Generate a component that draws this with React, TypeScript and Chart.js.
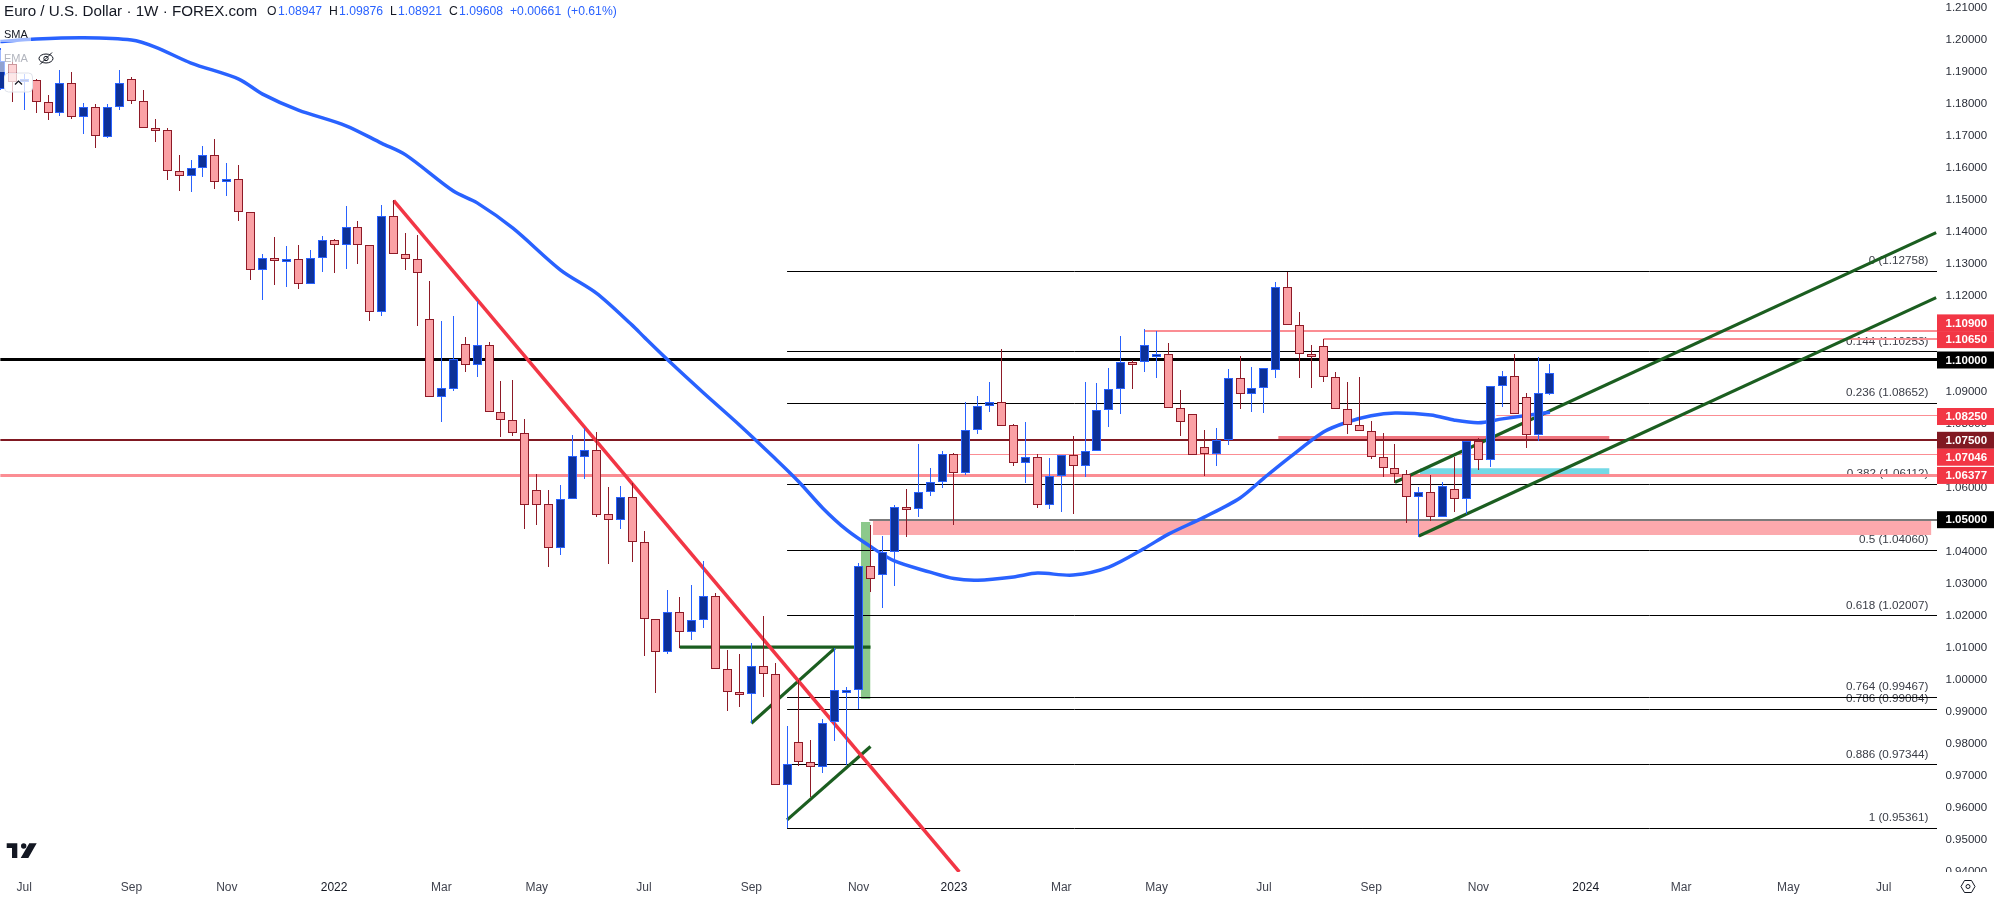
import React, { useEffect, useRef } from "react";
import { Chart } from "chart.js/auto";

const highs = [
  1.1974, 1.1932, 1.1894, 1.1877, 1.1828, 1.1906, 1.19, 1.1802, 1.1799, 1.1799,
  1.1906, 1.1883, 1.1844, 1.1752, 1.1724, 1.1641, 1.1625, 1.1669, 1.1691, 1.1616,
  1.1609, 1.1461, 1.1331, 1.1384, 1.1356, 1.1359, 1.1344, 1.1387, 1.1378, 1.1481,
  1.1434, 1.1358, 1.1484, 1.15, 1.1396, 1.1391, 1.1247, 1.1122, 1.1137, 1.1073,
  1.1184, 1.1056, 1.0934, 1.0937, 1.0816, 1.0644, 1.0594, 1.0609, 1.0766, 1.0789,
  1.0775, 1.0603, 1.0606, 1.0615, 1.0466, 1.019, 1.0281, 1.0259, 1.0297, 1.0372,
  1.0271, 1.0094, 1.0081, 1.0116, 1.02, 1.0053, 0.9856, 1.0, 0.9812, 0.9878,
  1.0099, 0.9978, 1.0365, 1.0484, 1.045, 1.0547, 1.0597, 1.0738, 1.0663, 1.0716,
  1.0708, 1.0869, 1.0888, 1.0931, 1.1034, 1.08, 1.0806, 1.0706, 1.0694, 1.0703,
  1.0763, 1.0931, 1.0928, 1.0975, 1.1075, 1.1, 1.1097, 1.1091, 1.1053, 1.0906,
  1.083, 1.0781, 1.0788, 1.0972, 1.1013, 1.0978, 1.0974, 1.1244, 1.1276, 1.1149,
  1.1047, 1.1066, 1.0961, 1.0931, 1.0947, 1.0809, 1.0771, 1.0738, 1.0656, 1.0604,
  1.0641, 1.062, 1.0696, 1.0747, 1.0757, 1.0918, 1.0966, 1.1019, 1.0896, 1.1009, 1.09876,
];
const opens = [
  1.1846, 1.1924, 1.1873, 1.1874, 1.1805, 1.1771, 1.1865, 1.176, 1.1792, 1.1698,
  1.1792, 1.1877, 1.1808, 1.1725, 1.1718, 1.1592, 1.1574, 1.1599, 1.164, 1.1558,
  1.1565, 1.1461, 1.128, 1.1318, 1.1311, 1.1315, 1.1236, 1.1318, 1.1374, 1.1358,
  1.1415, 1.1358, 1.1149, 1.1449, 1.133, 1.1315, 1.1127, 1.0885, 1.091, 1.1049,
  1.0983, 1.1046, 1.0836, 1.0811, 1.0771, 1.0593, 1.0549, 1.0414, 1.0565, 1.0698,
  1.0718, 1.0518, 1.0499, 1.0571, 1.043, 1.019, 1.0088, 1.0214, 1.0149, 1.0186,
  1.0261, 1.0033, 0.9964, 0.9955, 1.0045, 1.0018, 0.9671, 0.9805, 0.9743, 0.9727,
  0.987, 0.9967, 0.9968, 1.0355, 1.0327, 1.0399, 1.054, 1.0533, 1.0586, 1.0618,
  1.0705, 1.0646, 1.078, 1.0855, 1.0868, 1.0796, 1.0677, 1.0696, 1.0546, 1.0636,
  1.0702, 1.0668, 1.0715, 1.0843, 1.0908, 1.0995, 1.0993, 1.1017, 1.1018, 1.0849,
  1.083, 1.0727, 1.0707, 1.0749, 1.0943, 1.0893, 1.0911, 1.0968, 1.1227, 1.1108,
  1.1018, 1.1043, 1.0946, 1.0846, 1.0796, 1.0777, 1.0698, 1.0662, 1.0645, 1.0572,
  1.0587, 1.0508, 1.0596, 1.0565, 1.0746, 1.0687, 1.0918, 1.0949, 1.0883, 1.0765, 1.08947,
];
const closes = [
  1.1934, 1.187, 1.1877, 1.1805, 1.1771, 1.1865, 1.176, 1.1792, 1.1699, 1.1792,
  1.1865, 1.1808, 1.1724, 1.1718, 1.1592, 1.1574, 1.1599, 1.164, 1.1557, 1.1565,
  1.1461, 1.128, 1.1318, 1.1311, 1.1315, 1.1236, 1.1318, 1.1374, 1.1358, 1.1415,
  1.1358, 1.1149, 1.1449, 1.133, 1.1315, 1.1271, 1.0885, 1.0911, 1.1002, 1.0983,
  1.1046, 1.0836, 1.0811, 1.0771, 1.0546, 1.0548, 1.0414, 1.0565, 1.0699, 1.0718,
  1.0517, 1.0499, 1.0571, 1.043, 1.019, 1.0088, 1.0214, 1.0149, 1.0186, 1.0261,
  1.0033, 0.9964, 0.9955, 1.0045, 1.0018, 0.9671, 0.9736, 0.9743, 0.9727, 0.9865,
  0.9968, 0.9969, 1.0355, 1.0315, 1.0399, 1.054, 1.0533, 1.0586, 1.0618, 1.0705,
  1.0646, 1.078, 1.0855, 1.0868, 1.0793, 1.0677, 1.0696, 1.0546, 1.0636, 1.0702,
  1.0668, 1.0715, 1.0843, 1.0908, 1.0993, 1.0992, 1.1046, 1.1019, 1.0849, 1.0805,
  1.0702, 1.0707, 1.0749, 1.0943, 1.0893, 1.0911, 1.0974, 1.1227, 1.1108, 1.1018,
  1.1008, 1.0946, 1.0846, 1.0796, 1.0777, 1.0698, 1.0662, 1.0645, 1.0572, 1.0587,
  1.0508, 1.0605, 1.0565, 1.0746, 1.0687, 1.0918, 1.0949, 1.083, 1.0765, 1.0896, 1.09608,
];
const lows = [
  1.1844, 1.1807, 1.1781, 1.1773, 1.175, 1.1764, 1.1754, 1.1705, 1.1662, 1.1695,
  1.1781, 1.1801, 1.1724, 1.1682, 1.1563, 1.1528, 1.1525, 1.1573, 1.1534, 1.1513,
  1.1434, 1.125, 1.1188, 1.1234, 1.1229, 1.1222, 1.1236, 1.1276, 1.1273, 1.1285,
  1.13, 1.1122, 1.1139, 1.133, 1.1281, 1.1106, 1.0885, 1.0807, 1.0904, 1.0962,
  1.0948, 1.0836, 1.076, 1.0763, 1.0473, 1.0484, 1.0354, 1.0391, 1.0565, 1.0629,
  1.051, 1.0363, 1.0472, 1.037, 1.0076, 0.9958, 1.0082, 1.0101, 1.0126, 1.0163,
  1.0033, 0.9903, 0.9917, 0.9867, 0.9948, 0.9671, 0.9536, 0.9732, 0.9635, 0.971,
  0.981, 0.9734, 0.9909, 1.0276, 1.0226, 1.0295, 1.0448, 1.051, 1.0576, 1.0601,
  1.0485, 1.0641, 1.077, 1.0838, 1.0793, 1.067, 1.0617, 1.0539, 1.0535, 1.0526,
  1.052, 1.0635, 1.0715, 1.0792, 1.0831, 1.091, 1.0963, 1.0945, 1.0849, 1.0762,
  1.0702, 1.0639, 1.0669, 1.0734, 1.0847, 1.0838, 1.0834, 1.0945, 1.1108, 1.0945,
  1.0914, 1.0932, 1.0846, 1.0769, 1.0777, 1.069, 1.0635, 1.0615, 1.0492, 1.0448,
  1.0497, 1.0508, 1.0526, 1.0518, 1.0656, 1.0667, 1.0854, 1.083, 1.0726, 1.0746, 1.08921,
];

const smaWeeks = [
  0, 3, 7, 11, 13, 16, 20, 22, 25, 29, 32, 34, 38, 40, 43, 47, 50, 53, 54, 56, 59, 62, 65, 67, 69, 71, 73,
  75, 78, 80, 82, 85, 87, 90, 93, 96, 98, 101, 104, 106, 108, 111, 113, 115, 117, 120, 122, 124, 126, 130,
];
const smaValues = [
  1.1995, 1.2003, 1.2007, 1.2, 1.1978, 1.1928, 1.1878, 1.1831, 1.1781, 1.1732, 1.1677, 1.1641, 1.1528, 1.1491,
  1.1412, 1.1281, 1.1209, 1.1109, 1.1072, 1.1, 1.0897, 1.0797, 1.0692, 1.0619, 1.0537, 1.0469, 1.0417,
  1.0372, 1.0337, 1.0317, 1.0312, 1.0322, 1.0334, 1.0328, 1.0353, 1.0412, 1.0456, 1.0509, 1.0569, 1.0631,
  1.0691, 1.0775, 1.0806, 1.0826, 1.0834, 1.0828, 1.0812, 1.0804, 1.0816, 1.0837,
];

const fibLabels = ["0", "0.144", "0.236", "0.382", "0.5", "0.618", "0.764", "0.786", "0.886", "1"];
const fibLevels = [1.12758, 1.10253, 1.08652, 1.06112, 1.0406, 1.02007, 0.99467, 0.99084, 0.97344, 0.95361];

const levelValues = [1.1, 1.075, 1.06377, 1.05, 1.0825, 1.07046, 1.1065, 1.109];
const levelStarts = [0, 0, 0, 72.9, 125.5, 79.7, 111, 96];
const levelColors = ["#000000", "#801922", "#fb8d93", "#7b7b7b", "#fb8d93", "#fb8d93", "#fb8d93", "#fb8d93"];
const levelWidths = [3, 2, 3, 2, 1, 1, 2, 2];

const zoneStarts = [73.2, 107.2, 119.1, 72.2];
const zoneEnds = [162, 135, 135, 73];
const zoneTops = [1.05, 1.07625, 1.0662, 1.0494];
const zoneBottoms = [1.0453, 1.075, 1.0637, 0.9941];
const zoneColors = ["#fca9ad", "#f07680", "#74d9e6", "#8cc98c"];

const trendStartX = [57, 63, 66, 117, 119, 33];
const trendStartY = [1.0103, 0.9865, 0.9563, 1.0618, 1.045, 1.1498];
const trendEndX = [73, 70, 73, 162.4, 162.4, 80.45];
const trendEndY = [1.0103, 1.0099, 0.9792, 1.1398, 1.1195, 0.94];
const trendColors = ["#1b5e20", "#1b5e20", "#1b5e20", "#1b5e20", "#1b5e20", "#f23645"];

const xTickWeeks = [2, 11, 19, 28, 37, 45, 54, 63, 72, 80, 89, 97, 106, 115, 124, 133, 141, 150, 158];
const xTickLabels = ["Jul", "Sep", "Nov", "2022", "Mar", "May", "Jul", "Sep", "Nov", "2023", "Mar", "May", "Jul", "Sep", "Nov", "2024", "Mar", "May", "Jul"];

const tagValues = [1.109, 1.1065, 1.1, 1.0825, 1.075, 1.07046, 1.06377, 1.05];
const tagLabels = ["1.10900", "1.10650", "1.10000", "1.08250", "1.07500", "1.07046", "1.06377", "1.05000"];
const tagColors = ["#f23645", "#f23645", "#000000", "#f23645", "#801922", "#f23645", "#f23645", "#000000"];
const tagNudges = [-8.3, 0.4, 0, 0.5, 0.3, 2.7, -0.5, -0.3];

const titleText = "Euro / U.S. Dollar · 1W · FOREX.com";
const ohlcNames = ["O", "H", "L", "C"];
const ohlcTexts = ["1.08947", "1.09876", "1.08921", "1.09608"];
const changeText = "+0.00661";
const changePct = "(+0.61%)";

const FONT = '"Liberation Sans", Arial, sans-serif';
const X_MIN = -0.03;
const X_MAX = 162.47;

const snapPlugin = {
  id: "snap",
  afterDatasetsUpdate(chart: any) {
    chart.data.datasets.forEach((ds: any, i: number) => {
      const meta = chart.getDatasetMeta(i);
      if (ds.snapBar) {
        meta.data.forEach((el: any) => {
          el.x = Math.floor(el.x) + 0.5;
          let top = Math.round(Math.min(el.y, el.base));
          let bot = Math.round(Math.max(el.y, el.base));
          if (ds.minPx && bot - top < ds.minPx) bot = top + ds.minPx;
          el.y = top;
          el.base = bot;
        });
      }
      if (ds.snapLine) {
        const odd = ds.borderWidth % 2 === 1;
        meta.data.forEach((el: any) => {
          el.y = odd ? Math.floor(el.y) + 0.5 : Math.round(el.y);
        });
      }
    });
  },
};

const fibLabelPlugin = {
  id: "fibLabels",
  beforeDatasetsDraw(chart: any) {
    const { ctx, scales } = chart;
    ctx.save();
    ctx.font = `11.7px ${FONT}`;
    ctx.fillStyle = "#3a3d46";
    ctx.textAlign = "right";
    ctx.textBaseline = "middle";
    fibLevels.forEach((v, i) => {
      ctx.fillText(`${fibLabels[i]} (${v.toFixed(5)})`, 1928.5, scales.y.getPixelForValue(v) - 10.5);
    });
    ctx.restore();
  },
};

const overlayPlugin = {
  id: "overlay",
  afterDraw(chart: any) {
    const { ctx, scales } = chart;
    ctx.save();
    // Clip of the price scale at the foot of the pane
    ctx.fillStyle = "#ffffff";
    ctx.fillRect(1937, 872, 57, 26);
    // Price tags
    ctx.textBaseline = "middle";
    ctx.textAlign = "left";
    tagValues.forEach((v, i) => {
      const c = scales.y.getPixelForValue(v) + tagNudges[i];
      ctx.fillStyle = tagColors[i];
      ctx.fillRect(1937, c - 8.5, 57, 17);
      ctx.fillStyle = "#ffffff";
      ctx.font = `bold 11.5px ${FONT}`;
      ctx.fillText(tagLabels[i], 1945.5, c + 0.5);
    });
    // Legend washes
    ctx.fillStyle = "rgba(255,255,255,0.55)";
    ctx.fillRect(0, 27, 31, 15);
    ctx.fillRect(0, 50, 58, 22);
    // Title row
    ctx.fillStyle = "#131722";
    ctx.font = `15.2px ${FONT}`;
    ctx.fillText(titleText, 4, 11.5);
    const nameX = [267, 329, 390, 449];
    const valX = [278, 339, 398, 459];
    ctx.font = `12.2px ${FONT}`;
    ohlcNames.forEach((n, i) => {
      ctx.fillStyle = "#131722";
      ctx.fillText(n, nameX[i], 11.5);
      ctx.fillStyle = "#2962ff";
      ctx.fillText(ohlcTexts[i], valX[i], 11.5);
    });
    ctx.fillText(changeText, 510, 11.5);
    ctx.fillText(changePct, 567, 11.5);
    // SMA / EMA legend
    ctx.font = `11px ${FONT}`;
    ctx.fillStyle = "#131722";
    ctx.fillText("SMA", 4, 35);
    ctx.fillStyle = "#b2b5be";
    ctx.fillText("EMA", 4, 59);
    ctx.strokeStyle = "#131722";
    ctx.lineWidth = 1;
    ctx.beginPath();
    ctx.ellipse(46, 58.5, 7, 4.5, 0, 0, Math.PI * 2);
    ctx.moveTo(48.2, 58.5);
    ctx.arc(46, 58.5, 2.2, 0, Math.PI * 2);
    ctx.moveTo(40, 64.5);
    ctx.lineTo(52, 52.5);
    ctx.stroke();
    // Collapse button
    ctx.fillStyle = "rgba(255,255,255,0.75)";
    ctx.strokeStyle = "#e0e3eb";
    ctx.beginPath();
    ctx.roundRect(4.5, 73, 28, 19, 4);
    ctx.fill();
    ctx.stroke();
    ctx.strokeStyle = "#131722";
    ctx.lineWidth = 1.2;
    ctx.beginPath();
    ctx.moveTo(15, 84.5);
    ctx.lineTo(18.5, 81);
    ctx.lineTo(22, 84.5);
    ctx.stroke();
    // TradingView mark
    ctx.fillStyle = "#131722";
    ctx.beginPath();
    ctx.moveTo(6.7, 843.3);
    ctx.lineTo(17.3, 843.3);
    ctx.lineTo(17.3, 858);
    ctx.lineTo(12, 858);
    ctx.lineTo(12, 848);
    ctx.lineTo(6.7, 848);
    ctx.closePath();
    ctx.moveTo(26.4, 846);
    ctx.arc(23.7, 846, 2.7, 0, Math.PI * 2);
    ctx.moveTo(29.3, 843.3);
    ctx.lineTo(36.7, 843.3);
    ctx.lineTo(28.3, 858);
    ctx.lineTo(20.7, 858);
    ctx.closePath();
    ctx.fill();
    // Settings hexagon
    ctx.strokeStyle = "#131722";
    ctx.lineWidth = 1;
    ctx.beginPath();
    const gx = 1968, gy = 886.5;
    [[-7, 0], [-3.5, -6], [3.5, -6], [7, 0], [3.5, 6], [-3.5, 6]].forEach(([dx, dy], i) => {
      if (i === 0) ctx.moveTo(gx + dx, gy + dy);
      else ctx.lineTo(gx + dx, gy + dy);
    });
    ctx.closePath();
    ctx.moveTo(gx + 2, gy);
    ctx.arc(gx, gy, 2, 0, Math.PI * 2);
    ctx.stroke();
    ctx.restore();
  },
};

const UP_FILL = "#0d3198";
const UP_EDGE = "#2962ff";
const DOWN_FILL = "#fba1a5";
const DOWN_EDGE = "#8e1a27";

function buildDatasets() {
  const line = (data: any[], color: string, width: number, order: number, extra: any = {}) => ({
    type: "line",
    data,
    borderColor: color,
    borderWidth: width,
    pointRadius: 0,
    fill: false,
    order,
    ...extra,
  });
  const isUp = closes.map((c, i) => c >= opens[i]);
  const sets: any[] = [];
  zoneTops.forEach((top, i) => {
    sets.push(
      line([{ x: zoneStarts[i], y: top }, { x: zoneEnds[i], y: top }], zoneColors[i], 0, 8, {
        backgroundColor: zoneColors[i],
        fill: { value: zoneBottoms[i] },
      })
    );
  });
  fibLevels.forEach((v) => {
    sets.push(line([{ x: 66, y: v }, { x: X_MAX, y: v }], "#000000", 1, 7, { snapLine: true }));
  });
  levelValues.forEach((v, i) => {
    sets.push(line([{ x: levelStarts[i], y: v }, { x: X_MAX, y: v }], levelColors[i], levelWidths[i], 6, { snapLine: true }));
  });
  trendStartX.forEach((x, i) => {
    sets.push(
      line(
        [{ x, y: trendStartY[i] }, { x: trendEndX[i], y: trendEndY[i] }],
        trendColors[i],
        i === 5 ? 3.5 : 3.2,
        i === 5 ? 4 : 5
      )
    );
  });
  sets.push(
    line(smaWeeks.map((x, i) => ({ x, y: smaValues[i] })), "#2962ff", 3.5, 3, { tension: 0.3 })
  );
  sets.push({
    type: "bar",
    data: highs.map((h, i) => ({ x: i, y: [lows[i], h] })),
    backgroundColor: isUp.map((u) => (u ? UP_EDGE : DOWN_EDGE)),
    borderWidth: 0,
    grouped: false,
    maxBarThickness: 1,
    barPercentage: 1,
    categoryPercentage: 1,
    inflateAmount: 0,
    order: 2,
    snapBar: true,
  });
  sets.push({
    type: "bar",
    data: opens.map((o, i) => ({ x: i, y: [o, closes[i]] })),
    backgroundColor: isUp.map((u) => (u ? UP_FILL : DOWN_FILL)),
    borderColor: isUp.map((u) => (u ? UP_EDGE : DOWN_EDGE)),
    borderWidth: 1,
    borderSkipped: false,
    grouped: false,
    maxBarThickness: 9,
    barPercentage: 1,
    categoryPercentage: 1,
    inflateAmount: 0,
    order: 1,
    snapBar: true,
    minPx: 3,
  });
  return sets;
}

export default function App() {
  const ref = useRef<HTMLCanvasElement | null>(null);
  useEffect(() => {
    const chart = new Chart(ref.current as any, {
      type: "bar",
      data: { datasets: buildDatasets() },
      options: {
        animation: false,
        responsive: false,
        events: [],
        layout: { padding: 0 },
        plugins: { legend: { display: false }, tooltip: { enabled: false } },
        scales: {
          x: {
            type: "linear",
            min: X_MIN,
            max: X_MAX,
            offset: false,
            grid: { display: false, drawTicks: false },
            border: { display: false },
            afterFit: (s: any) => {
              s.height = 26;
              s.paddingLeft = 0;
              s.paddingRight = 0;
              s.paddingTop = 0;
              s.paddingBottom = 0;
            },
            afterBuildTicks: (s: any) => {
              s.ticks = xTickWeeks.map((value) => ({ value }));
            },
            ticks: {
              autoSkip: false,
              maxRotation: 0,
              padding: 8,
              font: { family: FONT, size: 12 },
              color: (c: any) => (/^\d/.test(c.tick?.label ?? "") ? "#131722" : "#41444f"),
              callback: (v: any) => {
                const k = xTickWeeks.indexOf(v);
                return k >= 0 ? xTickLabels[k] : "";
              },
            },
          },
          y: {
            type: "linear",
            position: "right",
            min: 0.94,
            max: 1.2125,
            grid: { display: false, drawTicks: false },
            border: { display: false },
            afterFit: (s: any) => {
              s.width = 57;
              s.paddingLeft = 0;
              s.paddingRight = 0;
              s.paddingTop = 0;
              s.paddingBottom = 0;
            },
            ticks: {
              stepSize: 0.01,
              includeBounds: false,
              autoSkip: false,
              padding: 8.5,
              font: { family: FONT, size: 11.5 },
              color: "#2a2e39",
              callback: (v: any) => Number(v).toFixed(5),
            },
          },
        },
      },
      plugins: [snapPlugin, fibLabelPlugin, overlayPlugin],
    } as any);
    return () => chart.destroy();
  }, []);
  return (
    <div style={{ position: "fixed", left: 0, top: 0, width: 1994, height: 898, background: "#ffffff" }}>
      <canvas ref={ref} width={1994} height={898} style={{ display: "block" }} />
    </div>
  );
}
